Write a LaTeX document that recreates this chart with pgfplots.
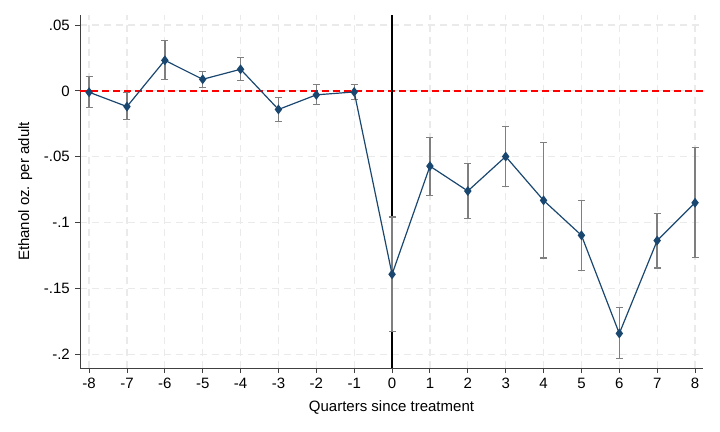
\documentclass[border=0pt]{standalone}
\usepackage{fontspec}
\setmainfont{Liberation Sans}
\usepackage{pgfplots}
\usepackage{pgfplotstable}
\pgfplotsset{compat=1.18}

\definecolor{stnavy}{HTML}{1A476F}
\definecolor{cigray}{HTML}{7F7F7F}
\definecolor{gridgray}{HTML}{EAEAEA}

% event-study estimates with 95% CI bounds
\pgfplotstableread{
x   y        hi       lo
-8  -0.0010  0.0106  -0.0126
-7  -0.0119 -0.0015  -0.0217
-6   0.0232  0.0381   0.0086
-5   0.0088  0.0149   0.0028
-4   0.0164  0.0255   0.0078
-3  -0.0141 -0.0051  -0.0235
-2  -0.0030  0.0048  -0.0104
-1  -0.0008  0.0050  -0.0066
0   -0.1392 -0.0957  -0.1826
1   -0.0571 -0.0351  -0.0796
2   -0.0760 -0.0548  -0.0970
3   -0.0498 -0.0268  -0.0725
4   -0.0831 -0.0394  -0.1268
5   -0.1096 -0.0829  -0.1364
6   -0.1841 -0.1647  -0.2033
7   -0.1136 -0.0930  -0.1344
8   -0.0849 -0.0430  -0.1263
}\estimates

\begin{document}
\fontsize{15bp}{18bp}\selectfont
\begin{tikzpicture}
\path[use as bounding box] (-80bp,-64bp) rectangle (640bp,368bp);
\begin{axis}[
    at={(0,0)}, anchor=south west,
    scale only axis,
    width=623bp, height=353bp,
    xmin=-8.24, xmax=8.21,
    ymin=-0.2103, ymax=0.0576,
    axis x line*=bottom, axis y line*=left,
    axis line style={draw=black!75, line width=0.9pt},
    xtick={-8,...,8},
    xticklabels={-8,-7,-6,-5,-4,-3,-2,-1,0,1,2,3,4,5,6,7,8},
    ytick={-0.2,-0.15,-0.1,-0.05,0,0.05},
    yticklabels={-.2,-.15,-.1,-.05,0,.05},
    tick align=outside,
    major tick length=5bp,
    tick style={draw=black!75, line width=0.9pt},
    grid=major,
    major grid style={draw=gridgray, line width=1.2pt, dash pattern=on 7bp off 5bp},
    xlabel={Quarters since treatment},
    ylabel={Ethanol oz. per adult},
    xlabel style={at={(axis description cs:0.5,-0.113)}, anchor=center},
    ylabel style={at={(axis description cs:-0.088,0.5)}, anchor=center},
    clip=false,
]
\draw[red, line width=1.5pt, dash pattern=on 7bp off 4bp]
    ({rel axis cs:0,0} |- {axis cs:0,0}) -- ({rel axis cs:1,0} |- {axis cs:0,0});
\draw[black, line width=1.3pt]
    ({axis cs:0,0} |- {rel axis cs:0,0}) -- ({axis cs:0,0} |- {rel axis cs:0,1});

\addplot[draw=none, no marks, forget plot,
    error bars/.cd, y dir=both, y explicit,
    error bar style={draw=cigray, line width=1.4pt},
    error mark options={draw=cigray, line width=1.1pt, mark size=3.5bp, rotate=90}]
    table[x=x, y=y,
          y error plus expr=\thisrow{hi}-\thisrow{y},
          y error minus expr=\thisrow{y}-\thisrow{lo}] {\estimates};

\addplot[stnavy, line width=1.2pt, mark=diamond*, mark size=4bp,
    mark options={fill=stnavy, draw=stnavy}]
    table[x=x, y=y] {\estimates};
\end{axis}
\end{tikzpicture}
\end{document}
